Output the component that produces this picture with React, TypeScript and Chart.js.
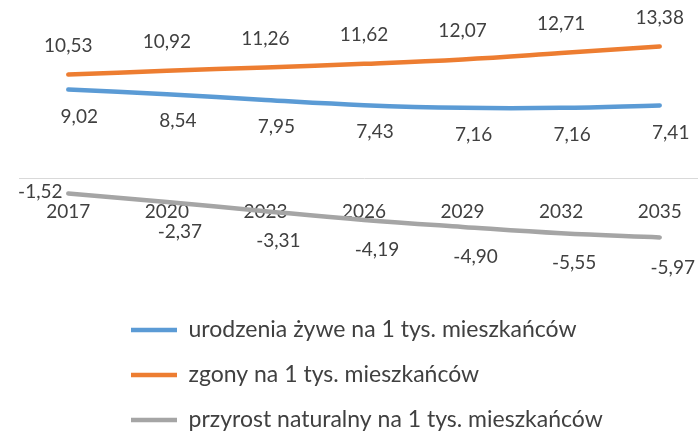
import { useEffect, useRef } from 'react';
import { Chart, registerables } from 'chart.js';

Chart.register(...registerables);

const years = ['2017', '2020', '2023', '2026', '2029', '2032', '2035'];
const births = [9.02, 8.54, 7.95, 7.43, 7.16, 7.16, 7.41];
const deaths = [10.53, 10.92, 11.26, 11.62, 12.07, 12.71, 13.38];
const growth = [-1.52, -2.37, -3.31, -4.19, -4.9, -5.55, -5.97];
const seriesNames = [
  'urodzenia żywe na 1 tys. mieszkańców',
  'zgony na 1 tys. mieszkańców',
  'przyrost naturalny na 1 tys. mieszkańców',
];
const seriesColors = ['#5B9BD5', '#ED7D31', '#A5A5A5'];

// label placement (style, not data)
const labelOffsets = [
  { dx: 11, dy: 27 },
  { dx: 0, dy: -29 },
  { dx: 13, dy: 30 },
];
const firstGrowthOffset = { dx: -28, dy: -2 };

const FONT = 'Lato';
const TEXT = '#404040';

const fmt = (v: number) => v.toFixed(2).replace('.', ',');

const labelsPlugin = {
  id: 'pointLabels',
  afterDatasetsDraw(chart: any) {
    const ctx = chart.ctx;
    ctx.save();
    ctx.font = `19px ${FONT}`;
    ctx.fillStyle = TEXT;
    ctx.textAlign = 'center';
    ctx.textBaseline = 'middle';
    chart.data.datasets.forEach((ds: any, di: number) => {
      const meta = chart.getDatasetMeta(di);
      meta.data.forEach((el: any, i: number) => {
        let off = labelOffsets[di];
        if (di === 2 && i === 0) off = firstGrowthOffset;
        ctx.fillText(fmt(ds.data[i]), el.x + off.dx, el.y + off.dy);
      });
    });
    ctx.restore();
  },
};

const legendPlacer = {
  id: 'legendPlacer',
  afterLayout(chart: any) {
    const lg = chart.legend;
    if (!lg) return;
    lg.left = 109;
    lg.top = 296.5;
    lg.right = 698;
    lg.bottom = 2000;
  },
};

export default function App() {
  const ref = useRef<HTMLCanvasElement | null>(null);
  useEffect(() => {
    if (!ref.current) return;
    const chart = new Chart(ref.current, {
      type: 'line',
      data: {
        labels: years,
        datasets: [births, deaths, growth].map((d, i) => ({
          label: seriesNames[i],
          data: d,
          borderColor: seriesColors[i],
          backgroundColor: seriesColors[i],
          borderWidth: 4.5,
          borderCapStyle: 'round',
          borderJoinStyle: 'round',
          pointRadius: 0,
          pointHoverRadius: 0,
          pointStyle: 'line',
          tension: 0.4,
          fill: false,
        })),
      },
      options: {
        animation: false,
        responsive: false,
        devicePixelRatio: 1,
        layout: { padding: { left: 19, right: 11, top: 20.6, bottom: 174.5 } },
        scales: {
          x: {
            type: 'category',
            offset: true,
            position: { y: 0 } as any,
            grid: { display: false, drawTicks: false },
            border: { display: true, color: '#D9D9D9', width: 1 },
            ticks: { color: TEXT, font: { family: FONT, size: 19 }, padding: 22, maxRotation: 0, autoSkip: false },
          },
          y: {
            display: false,
            min: -8,
            max: 16,
          },
        },
        plugins: {
          tooltip: { enabled: false },
          legend: {
            position: 'chartArea',
            align: 'start',
            labels: {
              usePointStyle: true,
              pointStyleWidth: 46,
              padding: 22,
              color: TEXT,
              font: { family: FONT, size: 23 },
            },
          },
        },
      },
      plugins: [labelsPlugin, legendPlacer],
    } as any);
    return () => chart.destroy();
  }, []);
  return (
    <div style={{ position: 'fixed', left: 0, top: 0, width: 698, height: 432, overflow: 'hidden', background: '#fff' }}>
      <canvas ref={ref} width={720} height={432} style={{ display: 'block' }} />
    </div>
  );
}
